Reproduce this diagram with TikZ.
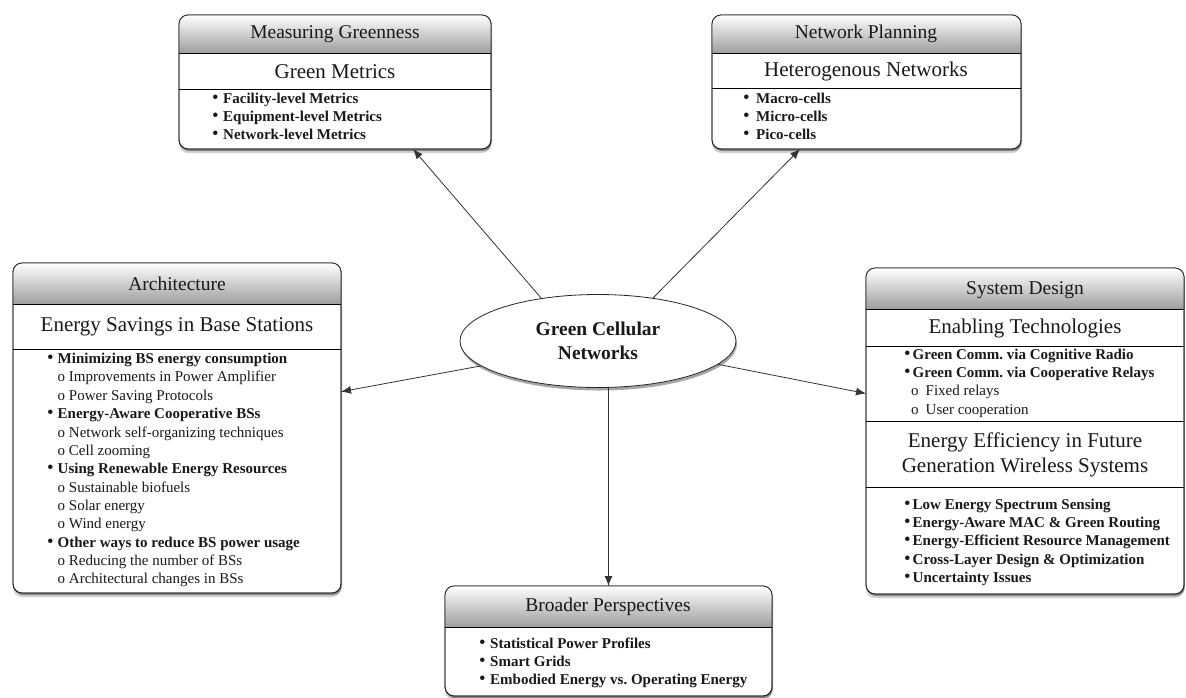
\documentclass[tikz,border=0pt]{standalone}
\usepackage{fontspec}
\setmainfont{Liberation Serif}
\usetikzlibrary{shapes.geometric,shadows,calc,arrows.meta}

\newcommand\gcbox[6]{%
  \node[boxo, minimum width={#4-#2}, minimum height={#5-#3}] (#1) at ({(#2+#4)/2},{(#3+#5)/2}) {};
  \begin{scope}
    \clip[rounded corners=9pt] (#2,#3) rectangle (#4,#5);
    \shade[hdr] (#2,#3) rectangle (#4,#6);
  \end{scope}
  \draw[sep] (#2,#6) -- (#4,#6);
  \draw[line width=0.8pt, draw=black!85, rounded corners=9pt] (#1.north west) rectangle (#1.south east);
}
\newlength\bw
\newcommand\bl[1]{\makebox[\bw][l]{\scalebox{1.25}{\textbullet}}\textbf{#1}}
\newcommand\sbl[1]{\hspace*{\bw}o~#1}
\frenchspacing

\begin{document}
\begin{tikzpicture}[x=1pt,y=-1pt,
  boxo/.style={draw=black!85, line width=0.8pt, rounded corners=9pt, fill=white, inner sep=0pt, outer sep=0pt,
    drop shadow={shadow xshift=0pt,shadow yshift=-4pt,opacity=.18,fill=black},
    drop shadow={shadow xshift=1pt,shadow yshift=-2pt,opacity=.35,fill=black}},
  hdr/.style={top color=white, bottom color=black!38},
  ttl/.style={font=\fontsize{19.5}{23}\selectfont, text=black!90},
  sub/.style={font=\fontsize{21}{25.5}\selectfont, text=black!90, align=center},
  lst/.style={font=\fontsize{15}{18.35}\selectfont, align=left, anchor=north west, inner sep=0pt, text=black!90},
  arr/.style={-{Latex[length=10pt,width=8pt]}, line width=0.8pt, draw=black!80},
  sep/.style={draw=black, line width=0.8pt}]

\useasboundingbox (0,0) rectangle (1186,697);

% Measuring Greenness
\gcbox{mg}{179}{15}{491}{149}{53}
\draw[sep] (179,89) -- (491,89);
\node[ttl] (mgt) at (335,34) {Measuring Greenness};
\node[sub] (mgs) at (335,72) {Green Metrics};
\setlength\bw{11pt}
\node[lst] (mgl) at (212,92.5) {\bl{Facility-level Metrics}\\\bl{Equipment-level Metrics}\\\bl{Network-level Metrics}};

% Network Planning
\gcbox{np}{712}{15}{1021}{149}{53}
\draw[sep] (712,88) -- (1021,88);
\node[ttl] (npt) at (866,34) {Network Planning};
\node[sub] (nps) at (866,71) {Heterogenous Networks};
\setlength\bw{13pt}
\node[lst] (npl) at (743,92.5) {\bl{Macro-cells}\\\bl{Micro-cells}\\\bl{Pico-cells}};

% Architecture
\gcbox{arch}{13}{263}{341}{593}{304}
\draw[sep] (13,349) -- (341,349);
\node[ttl] (archt) at (177,284) {Architecture};
\node[sub] (archs) at (177,327) {Energy Savings in Base Stations};
\setlength\bw{10.5pt}
\node[lst] (archl) at (47,353) {\bl{Minimizing BS energy consumption}\\
\sbl{Improvements in Power Amplifier}\\
\sbl{Power Saving Protocols}\\
\bl{Energy-Aware Cooperative BSs}\\
\sbl{Network self-organizing techniques}\\
\sbl{Cell zooming}\\
\bl{Using Renewable Energy Resources}\\
\sbl{Sustainable biofuels}\\
\sbl{Solar energy}\\
\sbl{Wind energy}\\
\bl{Other ways to reduce BS power usage}\\
\sbl{Reducing the number of BSs}\\
\sbl{Architectural changes in BSs}};

% System Design
\gcbox{sd}{866}{268}{1184}{594}{309}
\draw[sep] (866,346) -- (1184,346);
\draw[sep] (866,421) -- (1184,421);
\draw[sep] (866,487) -- (1184,487);
\node[ttl] (sdt) at (1025,290) {System Design};
\node[sub] (sds) at (1025,328) {Enabling Technologies};
\node[sub] (sdf) at (1025,455) {Energy Efficiency in Future\\Generation Wireless Systems};
\setlength\bw{8.5pt}
\node[lst] (sdl) at (904,348.5) {\bl{Green Comm. via Cognitive Radio}\\
\bl{Green Comm. via Cooperative Relays}\\
\hspace*{7pt}o\hspace{7pt}Fixed relays\\
\hspace*{7pt}o\hspace{7pt}User cooperation};
\node[lst] (sdm) at (904,498.5) {\bl{Low Energy Spectrum Sensing}\\
\bl{Energy-Aware MAC \& Green Routing}\\
\bl{Energy-Efficient Resource Management}\\
\bl{Cross-Layer Design \& Optimization}\\
\bl{Uncertainty Issues}};

% Broader Perspectives
\gcbox{bp}{445}{586}{772}{696}{627}
\node[ttl] (bpt) at (608,607) {Broader Perspectives};
\setlength\bw{11pt}
\node[lst] (bpl) at (479,637.5) {\bl{Statistical Power Profiles}\\\bl{Smart Grids}\\\bl{Embodied Energy vs. Operating Energy}};

% Centre
\node[ellipse, draw=black!85, line width=0.8pt, fill=white, minimum width=276pt, minimum height=93pt, inner sep=0pt,
  drop shadow={shadow xshift=1pt,shadow yshift=-3pt,opacity=.35,fill=black},
  font=\bfseries\fontsize{19.5}{23.5}\selectfont, align=center, text=black!90] (ell) at (598,341) {Green Cellular\\Networks};

% Arrows
\coordinate (mgin) at ($(mg.south west)!0.75!(mg.south east)$);
\coordinate (npin) at ($(np.south west)!0.285!(np.south east)$);
\coordinate (archin) at ($(arch.north east)!0.39!(arch.south east)$);
\coordinate (sdin) at ($(sd.north west)!0.385!(sd.south west)$);
\draw[arr] (ell.143) -- (mgin);
\draw[arr] (ell.38) -- (npin);
\draw[arr] (ell.192) -- (archin);
\draw[arr] (ell.349) -- (sdin);
\draw[arr] (bp.north |- ell.south) -- (bp.north);
\end{tikzpicture}
\end{document}
